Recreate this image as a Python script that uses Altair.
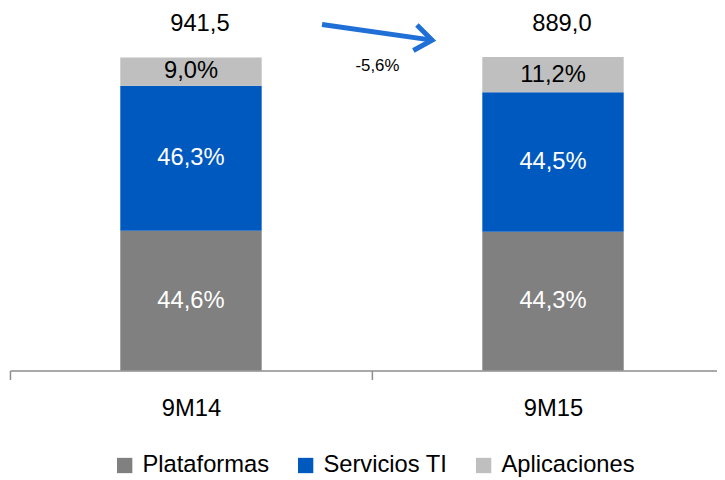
import altair as alt
import pandas as pd

categories = ["9M14", "9M15"]
series = ["Plataformas", "Servicios TI", "Aplicaciones"]
plataformas = [44.6, 44.3]
servicios_ti = [46.3, 44.5]
aplicaciones = [9.0, 11.2]
totals = [941.5, 889.0]
colors = ["#808080", "#0059BF", "#BFBFBF"]

# annotation arrow (x in category steps, y in % units)
arrow_x = [0.862, 1.166]
arrow_y = [110.4, 105.4]

FONT = "Liberation Sans"
FS = 24
WIDTH = 715
HEIGHT = 317
XMAX = 1.953  # visible part of the category axis (in category slots)


def fmt(v, d=1):
    return f"{v:.{d}f}".replace(".", ",")


rows = []
for i, c in enumerate(categories):
    for k, (s, vals) in enumerate(zip(series, [plataformas, servicios_ti, aplicaciones])):
        rows.append({"cat": c, "pos": i + 0.5, "series": s, "order": k, "value": vals[i],
                     "label": fmt(vals[i]) + "%"})
df = pd.DataFrame(rows)
tot = pd.DataFrame({"cat": categories, "pos": [i + 0.5 for i in range(len(categories))],
                    "total": totals, "label": [fmt(t) for t in totals]})
change = (totals[1] / totals[0] - 1) * 100
chg = pd.DataFrame({"pos": [1.015], "y": [97.2], "t": [fmt(change) + "%"]})
arrow = pd.DataFrame({"pos": arrow_x, "y": arrow_y})

label_expr = " : ".join(
    [f"datum.value == {i} ? '{c}'" for i, c in enumerate(categories)] + ["''"]
)

xscale = alt.Scale(domain=[0, XMAX], nice=False, zero=False, padding=0)
x_axis = alt.Axis(title=None, values=list(range(len(categories))), labelExpr=label_expr,
                  labelOffset=WIDTH / XMAX / 2, labelFlush=False, labelOverlap=False,
                  labelBound=False,
                  ticks=True, tickSize=9, tickColor="#8c8c8c", tickWidth=1.5,
                  domainColor="#8c8c8c", domainWidth=1.5,
                  labelFont=FONT, labelFontSize=FS, labelColor="black",
                  labelPadding=17, grid=False)
X = alt.X("pos:Q", scale=xscale, axis=x_axis)
yscale = alt.Scale(domain=[0, 100], nice=False, padding=0)

base = alt.Chart(df).transform_stack(
    stack="value", groupby=["cat"], as_=["y0", "y1"], sort=[alt.SortField("order")]
).transform_calculate(mid="(datum.y0 + datum.y1) / 2")

bars = base.mark_bar(size=143).encode(
    x=X,
    y=alt.Y("y0:Q", scale=yscale, axis=None),
    y2="y1:Q",
    color=alt.Color("series:N", scale=alt.Scale(domain=series, range=colors),
                    legend=alt.Legend(title=None, orient="none", legendX=104, legendY=401,
                                      direction="horizontal", symbolType="square",
                                      symbolSize=240, symbolStrokeWidth=0,
                                      labelFont=FONT, labelFontSize=FS, labelColor="black",
                                      columnPadding=24, labelOffset=6, labelLimit=300)),
)

seg_text = base.mark_text(font=FONT, fontSize=FS, baseline="middle").encode(
    x=X,
    y=alt.Y("mid:Q", scale=yscale, axis=None),
    text="label:N",
    color=alt.condition(alt.datum.series == "Aplicaciones", alt.value("black"), alt.value("white")),
)

total_text = alt.Chart(tot).mark_text(font=FONT, fontSize=FS, baseline="middle",
                                      dy=-33, dx=9, color="black").encode(
    x=X,
    y=alt.Y("top:Q", scale=yscale, axis=None),
    text="label:N",
).transform_calculate(top="100")

yq = alt.Y("y:Q", scale=yscale, axis=None)

arrow_line = alt.Chart(arrow).mark_line(color="#1f6fd6", strokeWidth=5).encode(x=X, y=yq)
arrow_head = alt.Chart(arrow.iloc[[1]]).mark_point(
    shape="M-1,-0.75L0,0L-1,0.75", filled=False, strokeWidth=5, size=1200,
    angle=8, color="#1f6fd6", opacity=1, strokeJoin="miter"
).encode(x=X, y=yq)
chg_text = alt.Chart(chg).mark_text(font=FONT, fontSize=17, color="black",
                                     baseline="middle").encode(x=X, y=yq, text="t:N")

chart = alt.layer(bars, seg_text, total_text, arrow_line, arrow_head, chg_text).properties(
    width=WIDTH, height=HEIGHT,
    background="white",
    autosize=alt.AutoSizeParams(type="none"),
    padding={"left": 2, "top": 47, "right": 0, "bottom": 107},
).configure_view(stroke=None)

chart.save("out.html", embed_options={"renderer": "svg", "actions": False})
